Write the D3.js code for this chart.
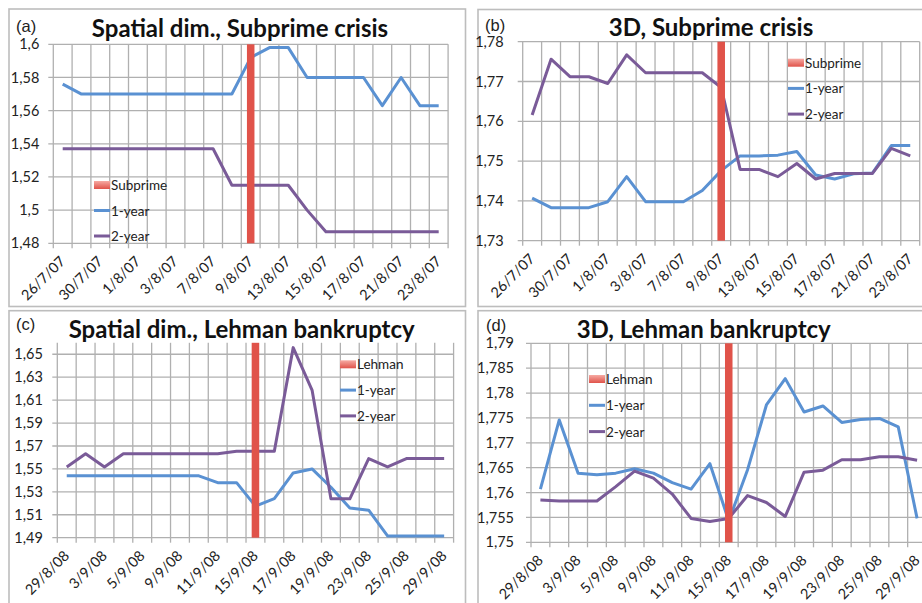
<!DOCTYPE html>
<html>
<head>
<meta charset="utf-8">
<script src="https://cdn.jsdelivr.net/npm/d3@7"></script>
<style>
  html, body { margin: 0; padding: 0; background: #fff; }
  svg { display: block; }
</style>
</head>
<body>
<svg id="chart" width="922" height="603"></svg>
<script>
// Trading days around each event
const datesSubprime = ["26/7/07","27/7/07","30/7/07","31/7/07","1/8/07","2/8/07","3/8/07","6/8/07","7/8/07","8/8/07","9/8/07","10/8/07","13/8/07","14/8/07","15/8/07","16/8/07","17/8/07","20/8/07","21/8/07","22/8/07","23/8/07"];
const datesLehman = ["29/8/08","2/9/08","3/9/08","4/9/08","5/9/08","8/9/08","9/9/08","10/9/08","11/9/08","12/9/08","15/9/08","16/9/08","17/9/08","18/9/08","19/9/08","22/9/08","23/9/08","24/9/08","25/9/08","26/9/08","29/9/08"];

// Event dates (marked by a full-height column)
const eventSubprime = "9/8/07";
const eventLehman = "15/9/08";

// (a) Spatial dimension, Subprime crisis
const spatialSubprime1y = [1.576,1.570,1.570,1.570,1.570,1.570,1.570,1.570,1.570,1.570,1.592,1.598,1.598,1.580,1.580,1.580,1.580,1.563,1.580,1.563,1.563];
const spatialSubprime2y = [1.537,1.537,1.537,1.537,1.537,1.537,1.537,1.537,1.537,1.515,1.515,1.515,1.515,1.500,1.487,1.487,1.487,1.487,1.487,1.487,1.487];

// (b) 3D, Subprime crisis
const d3Subprime1y = [1.7407,1.7383,1.7383,1.7383,1.7398,1.7461,1.7398,1.7398,1.7398,1.7426,1.7476,1.7513,1.7513,1.7515,1.7524,1.7465,1.7455,1.7468,1.7470,1.7539,1.7539];
const d3Subprime2y = [1.7616,1.7756,1.7712,1.7712,1.7695,1.7767,1.7722,1.7722,1.7722,1.7722,1.7685,1.7479,1.7479,1.7461,1.7494,1.7455,1.7469,1.7469,1.7469,1.7532,1.7513];

// (c) Spatial dimension, Lehman bankruptcy
const spatialLehman1y = [1.544,1.544,1.544,1.544,1.544,1.544,1.544,1.544,1.538,1.538,1.5175,1.524,1.5465,1.550,1.534,1.516,1.514,1.4915,1.4915,1.4915,1.4915];
const spatialLehman2y = [1.5517,1.5633,1.5517,1.5633,1.5633,1.5633,1.5633,1.5633,1.5633,1.5654,1.5654,1.5654,1.6558,1.6188,1.5239,1.5239,1.559,1.5517,1.559,1.559,1.559];

// (d) 3D, Lehman bankruptcy
const d3Lehman1y = [1.7607,1.7746,1.7639,1.7636,1.7639,1.7648,1.7639,1.7620,1.7607,1.7658,1.7543,1.7646,1.7776,1.7829,1.7762,1.7774,1.7741,1.7747,1.7749,1.7732,1.7548];
const d3Lehman2y = [1.7585,1.7583,1.7583,1.7583,1.7612,1.7643,1.7629,1.7597,1.7548,1.7542,1.7548,1.7594,1.7580,1.7552,1.7641,1.7645,1.7666,1.7666,1.7672,1.7672,1.7665];

// Value axes: [min, max, major unit]
const axisSpatialSubprime = [1.48, 1.60, 0.02];
const axisD3Subprime = [1.73, 1.78, 0.01];
const axisSpatialLehman = [1.49, 1.66, 0.02];
const axisD3Lehman = [1.75, 1.79, 0.005];

const seriesNames = ["1-year", "2-year"];

const COLORS = { one: "#5a91d2", two: "#7a5b98", event: "#e0534a", grid: "#b0b0b0", frame: "#bdbdbd" };
const FONT = "Lato, 'Open Sans', sans-serif";

const locale = d3.formatLocale({ decimal: ",", thousands: ".", grouping: [3], currency: ["", ""] });
const fmt = locale.format(".3~f");

const svg = d3.select("#chart");

const defs = svg.append("defs");
const grad = defs.append("linearGradient").attr("id", "evGrad").attr("x1", 0).attr("y1", 0).attr("x2", 0).attr("y2", 1);
grad.append("stop").attr("offset", "0%").attr("stop-color", "#f6aaa3");
grad.append("stop").attr("offset", "100%").attr("stop-color", "#e0534a");

const panels = [
  { tag: "(a)", title: "Spatial dim., Subprime crisis", dates: datesSubprime, event: eventSubprime, eventName: "Subprime",
    s1: spatialSubprime1y, s2: spatialSubprime2y, axis: axisSpatialSubprime,
    frame: [9, 9, 456.5, 297.5], plot: [53.3, 44.3, 394.8, 199], pad: 14, tagPos: [16, 31.5], titlePos: [240, 37],
    legend: [94, 185, 25.5] },
  { tag: "(b)", title: "3D, Subprime crisis", dates: datesSubprime, event: eventSubprime, eventName: "Subprime",
    s1: d3Subprime1y, s2: d3Subprime2y, axis: axisD3Subprime,
    frame: [478, 9.5, 460, 297], plot: [522.7, 41.7, 397, 199], pad: 19, tagPos: [485, 30.5], titlePos: [711, 36],
    legend: [788, 62.7, 25.7] },
  { tag: "(c)", title: "Spatial dim., Lehman bankruptcy", dates: datesLehman, event: eventLehman, eventName: "Lehman",
    s1: spatialLehman1y, s2: spatialLehman2y, axis: axisSpatialLehman,
    frame: [9, 310.7, 456.5, 320], plot: [57.3, 342.8, 396.3, 194.9], pad: 14.5, tagPos: [16, 330], titlePos: [241.7, 337.7],
    legend: [340, 364.3, 25.8] },
  { tag: "(d)", title: "3D, Lehman bankruptcy", dates: datesLehman, event: eventLehman, eventName: "Lehman",
    s1: d3Lehman1y, s2: d3Lehman2y, axis: axisD3Lehman,
    frame: [478, 310.7, 460, 320], plot: [531, 343.3, 395.5, 199], pad: 17, tagPos: [486, 331], titlePos: [703.7, 338.3],
    legend: [589, 379, 26.3] }
];

panels.forEach(p => {
  const g = svg.append("g");
  const [fx, fy, fw, fh] = p.frame;
  g.append("rect").attr("x", fx).attr("y", fy).attr("width", fw).attr("height", fh)
    .attr("fill", "#fff").attr("stroke", COLORS.frame).attr("stroke-width", 1.6);

  const [px, py, pw, ph] = p.plot;
  const [ymin, ymax, ystep] = p.axis;
  const x = d3.scaleBand().domain(p.dates).range([px, px + pw]).padding(0);
  const y = d3.scaleLinear().domain([ymin, ymax]).range([py + ph, py]);
  const yTicks = d3.range(0, Math.round((ymax - ymin) / ystep + 1e-6) + 1)
    .map(i => +(ymin + i * ystep).toFixed(4)).filter(v => v <= ymax + 1e-9);

  // vertical gridlines at category boundaries
  const bounds = p.dates.map(d => x(d)).concat([px + pw]);
  g.append("g").selectAll("line").data(bounds).join("line")
    .attr("x1", d => d).attr("x2", d => d).attr("y1", py).attr("y2", py + ph + 5)
    .attr("stroke", COLORS.grid).attr("stroke-width", 1.3);

  // horizontal gridlines
  g.append("g").selectAll("line").data(yTicks).join("line")
    .attr("x1", px - 5).attr("x2", px + pw).attr("y1", d => y(d)).attr("y2", d => y(d))
    .attr("stroke", COLORS.grid).attr("stroke-width", 1.3);

  // value axis labels
  const yAxis = d3.axisLeft(y).tickValues(yTicks).tickFormat(fmt).tickSize(0).tickPadding(p.pad);
  const ya = g.append("g").attr("transform", `translate(${px},0)`).call(yAxis);
  ya.select(".domain").remove();
  ya.selectAll("text").attr("font-family", FONT).attr("font-size", 14.5).attr("fill", "#222");

  // category axis labels (every other day), rotated
  const xa = d3.axisBottom(x).tickValues(p.dates.filter((d, i) => i % 2 === 0)).tickSize(0);
  const xg = g.append("g").attr("transform", `translate(0,${py + ph})`).call(xa);
  xg.select(".domain").remove();
  xg.selectAll("text")
    .attr("font-family", FONT).attr("font-size", 14.5).attr("fill", "#222")
    .attr("text-anchor", "end").attr("dy", null).attr("y", null)
    .attr("transform", "translate(3.5,19) rotate(-45)");

  const line = d3.line().x((d, i) => x(p.dates[i]) + x.bandwidth() / 2).y(d => y(d));
  g.append("path").datum(p.s1).attr("d", line).attr("fill", "none")
    .attr("stroke", COLORS.one).attr("stroke-width", 3).attr("stroke-linejoin", "round");
  g.append("path").datum(p.s2).attr("d", line).attr("fill", "none")
    .attr("stroke", COLORS.two).attr("stroke-width", 3).attr("stroke-linejoin", "round");

  // event column reaching the top of the value axis
  const bw = x.bandwidth() * 0.4;
  g.append("rect")
    .attr("x", x(p.event) + x.bandwidth() / 2 - bw / 2).attr("width", bw)
    .attr("y", y(ymax)).attr("height", y(ymin) - y(ymax))
    .attr("fill", COLORS.event);

  // legend
  const [lx, ly, lstep] = p.legend;
  const lg = g.append("g").attr("font-family", FONT).attr("font-size", 13.5).attr("fill", "#222");
  lg.append("rect").attr("x", lx).attr("y", ly - 4).attr("width", 16).attr("height", 8).attr("fill", "url(#evGrad)");
  lg.append("text").attr("x", lx + 17).attr("y", ly + 5).text(p.eventName);
  [COLORS.one, COLORS.two].forEach((c, i) => {
    const yy = ly + lstep * (i + 1);
    lg.append("line").attr("x1", lx).attr("x2", lx + 16).attr("y1", yy).attr("y2", yy)
      .attr("stroke", c).attr("stroke-width", 3);
    lg.append("text").attr("x", lx + 17).attr("y", yy + 5).text(seriesNames[i]);
  });

  // title and panel tag
  g.append("text").attr("x", p.titlePos[0]).attr("y", p.titlePos[1]).attr("text-anchor", "middle")
    .attr("font-family", FONT).attr("font-weight", "bold").attr("font-size", 24).attr("fill", "#111")
    .text(p.title);
  g.append("text").attr("x", p.tagPos[0]).attr("y", p.tagPos[1])
    .attr("font-family", "'Liberation Sans', Arial, sans-serif").attr("font-size", 16.5).attr("fill", "#222")
    .text(p.tag);
});
</script>
</body>
</html>
